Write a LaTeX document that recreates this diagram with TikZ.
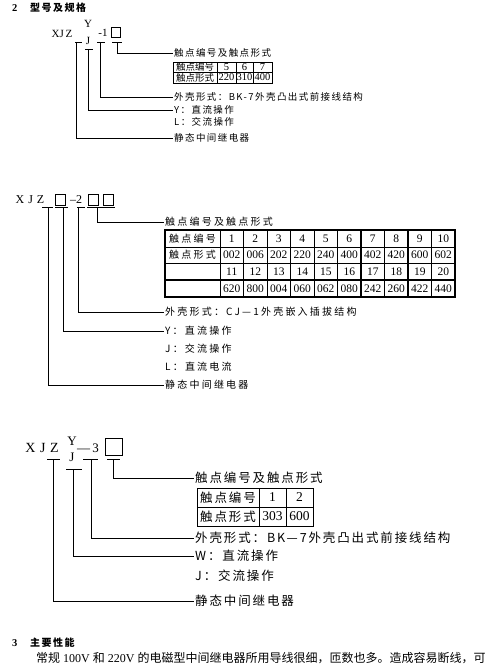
\documentclass[tikz,border=0pt]{standalone}
\usepackage{fontspec}
\setmainfont{Liberation Serif}
\newfontfamily\cjk[LetterSpace=15]{Noto Sans CJK SC}
\newfontfamily\cjkwide[LetterSpace=22]{Noto Sans CJK SC}
\usetikzlibrary{positioning}

\begin{document}
\begin{tikzpicture}[x=1pt,y=-1pt,
  lblA/.style={anchor=west,inner sep=1pt,font=\cjk\fontsize{9.5}{11}\selectfont},
  lblB/.style={anchor=west,inner sep=1pt,font=\cjkwide\fontsize{10}{12}\selectfont},
  lblC/.style={anchor=west,inner sep=1pt,font=\cjk\fontsize{12.5}{14}\selectfont},
  code/.style={inner sep=0pt},
  cellbox/.style={draw,line width=0.6pt,inner sep=0pt},
  heading/.style={anchor=west,inner sep=0pt,font=\bfseries\fontsize{10.5}{12}\selectfont}]
  \useasboundingbox (0,0) rectangle (500,664);

  % heading 2
  \node[heading] (num2) at (12,8) {2};
  \node[heading,font=\cjk\bfseries\fontsize{10}{12}\selectfont] (title2) at (30,8) {型号及规格};

  % ---- XJZ Y/J -1 ----
  \node[code,font=\fontsize{11}{12}\selectfont] (codeA) at (62,34) {XJ\,Z};
  \node[code,font=\fontsize{11}{12}\selectfont] (yA) at (88,24) {Y};
  \node[code,font=\fontsize{11}{12}\selectfont] (jA) at (88,41) {J};
  \node[code,font=\fontsize{11}{12}\selectfont] (numA) at (103,33) {-1};
  \node[cellbox,minimum width=9pt,minimum height=10pt] (boxA) at (116,32) {};
  \draw (75,42) -- (82,42) (85,49) -- (93,49) (97,42) -- (105,42) (112,42) -- (122,42);
  \coordinate (uA1) at (76,42);
  \coordinate (uA2) at (88,49);
  \coordinate (uA3) at (100,42);
  \coordinate (uA4) at (117,42);
  \node[lblA] (contA) at (173,53) {触点编号及触点形式};
  \node[lblA] (shellA) at (173,97) {外壳形式：BK-7外壳凸出式前接线结构};
  \node[lblA] (dcA) at (173,110) {Y：直流操作};
  \node[lblA] (acA) at (173,122) {L：交流操作};
  \node[lblA] (relA) at (173,138) {静态中间继电器};
  \draw (uA4) |- (contA.west);
  \draw (uA3) |- (shellA.west);
  \draw (uA2) |- (dcA.west);
  \draw (uA1) |- (relA.west);
  % table A
  \draw[line width=0.8pt] (173,62) rectangle (272,83);
  \draw[line width=0.6pt] (173,72) -- (272,72);
  \foreach \x in {217,236,253} \draw[line width=0.6pt] (\x,62) -- (\x,83);
  \node[font=\fontspec{Noto Sans CJK SC}\fontsize{9.5}{10}\selectfont,inner sep=0pt] (tA-1-0) at (195,67) {触点编号};
  \node[font=\fontspec{Noto Sans CJK SC}\fontsize{9.5}{10}\selectfont,inner sep=0pt] (tA-2-0) at (195,77.5) {触点形式};
  \foreach \n/\f/\x [count=\i] in {5/220/226.5,6/310/244.5,7/400/262.5} {
    \node[font=\fontsize{10.5}{12}\selectfont,inner sep=0pt] (tA-1-\i) at (\x,67) {\n};
    \node[font=\fontsize{10.5}{12}\selectfont,inner sep=0pt] (tA-2-\i) at (\x,77.5) {\f};
  }

  % ---- XJZ [] -2 [][] ----
  \node[code,font=\fontsize{12}{13}\selectfont] (codeB) at (30,200) {X\,\,J\,\,Z};
  \node[cellbox,minimum width=10pt,minimum height=11pt] (boxB1) at (60,199.5) {};
  \node[code,font=\fontsize{12}{13}\selectfont] (numB) at (76,200) {--2};
  \node[cellbox,minimum width=10pt,minimum height=11pt] (boxB2) at (93,199.5) {};
  \node[cellbox,minimum width=10pt,minimum height=11pt] (boxB3) at (108,199.5) {};
  \draw (42,207) -- (53,207) (55,207) -- (68,207) (77,207) -- (85,207) (87,207) -- (115,207);
  \coordinate (uB1) at (48,207);
  \coordinate (uB2) at (63,207);
  \coordinate (uB3) at (78,207);
  \coordinate (uB4) at (97,207);
  \node[lblB] (contB) at (164,222) {触点编号及触点形式};
  \node[lblB] (shellB) at (164,312) {外壳形式：CJ—1外壳嵌入插拔结构};
  \node[lblB] (dcB) at (164,331) {Y：直流操作};
  \node[lblB] (acB) at (164,349) {J：交流操作};
  \node[lblB] (curB) at (164,367) {L：直流电流};
  \node[lblB] (relB) at (164,385) {静态中间继电器};
  \draw (uB4) |- (contB.west);
  \draw (uB3) |- (shellB.west);
  \draw (uB2) |- (dcB.west);
  \draw (uB1) |- (relB.west);
  % table B
  \foreach \y in {247,263} \draw[line width=0.6pt] (165,\y) -- (455,\y);
  \draw[line width=1.2pt] (165,280) -- (455,280);
  \draw[line width=0.6pt] (220,230) -- (220,297);
  \foreach \k in {2,3,4,5,7,9} \draw[line width=0.6pt] (220+23.5*\k,230) -- (220+23.5*\k,297);
  \foreach \k in {1,6,8} \draw[line width=1.2pt] (220+23.5*\k,230) -- (220+23.5*\k,297);
  \draw[line width=1.2pt] (165,230) rectangle (455,297);
  \node[font=\cjkwide\fontsize{10}{12}\selectfont,inner sep=0pt] (tB-1-0) at (192.5,238.5) {触点编号};
  \node[font=\cjkwide\fontsize{10}{12}\selectfont,inner sep=0pt] (tB-2-0) at (192.5,255) {触点形式};
  \foreach \a/\b/\c/\d [count=\i] in {1/002/11/620,2/006/12/800,3/202/13/004,4/220/14/060,5/240/15/062,
      6/400/16/080,7/402/17/242,8/420/18/260,9/600/19/422,10/602/20/440} {
    \node[font=\fontsize{11.5}{12}\selectfont,inner sep=0pt] (tB-1-\i) at (208.25+23.5*\i,238.5) {\a};
    \node[font=\fontsize{11.5}{12}\selectfont,inner sep=0pt] (tB-2-\i) at (208.25+23.5*\i,255) {\b};
    \node[font=\fontsize{11.5}{12}\selectfont,inner sep=0pt] (tB-3-\i) at (208.25+23.5*\i,271.5) {\c};
    \node[font=\fontsize{11.5}{12}\selectfont,inner sep=0pt] (tB-4-\i) at (208.25+23.5*\i,288.5) {\d};
  }

  % ---- XJZ Y/J -3 [] ----
  \node[code,font=\fontsize{14}{15}\selectfont] (codeC) at (42,448) {X\,\,J\,\,Z};
  \node[code,font=\fontsize{13}{14}\selectfont] (yC) at (72,441) {Y};
  \node[code,font=\fontsize{13}{14}\selectfont] (jC) at (72,457) {J};
  \node[code,font=\fontsize{13}{14}\selectfont] (numC) at (88,448) {---\,3};
  \node[cellbox,minimum width=17pt,minimum height=17pt] (boxC) at (113.5,446.5) {};
  \draw (47,459) -- (60,459) (66,469) -- (82,469) (83,459) -- (98,459) (107,459) -- (120,459);
  \coordinate (uC1) at (53,459);
  \coordinate (uC2) at (73,469);
  \coordinate (uC3) at (91,459);
  \coordinate (uC4) at (113,459);
  \node[lblC] (contC) at (194,478) {触点编号及触点形式};
  \node[lblC] (shellC) at (194,538) {外壳形式：BK—7外壳凸出式前接线结构};
  \node[lblC] (dcC) at (194,556) {W：直流操作};
  \node[lblC] (acC) at (194,576) {J：交流操作};
  \node[lblC] (relC) at (194,601) {静态中间继电器};
  \draw (uC4) |- (contC.west);
  \draw (uC3) |- (shellC.west);
  \draw (uC2) |- (dcC.west);
  \draw (uC1) |- (relC.west);
  % table C
  \draw[line width=0.8pt] (197,488) rectangle (313,526);
  \draw[line width=0.6pt] (197,507) -- (313,507);
  \foreach \x in {259,286} \draw[line width=0.6pt] (\x,488) -- (\x,526);
  \node[font=\cjk\fontsize{12.5}{14}\selectfont,inner sep=0pt] (tC-1-0) at (228,497.5) {触点编号};
  \node[font=\cjk\fontsize{12.5}{14}\selectfont,inner sep=0pt] (tC-2-0) at (228,516.5) {触点形式};
  \foreach \n/\f/\x [count=\i] in {1/303/272.5,2/600/299.5} {
    \node[font=\fontsize{13.5}{14}\selectfont,inner sep=0pt] (tC-1-\i) at (\x,497.5) {\n};
    \node[font=\fontsize{13.5}{14}\selectfont,inner sep=0pt] (tC-2-\i) at (\x,516.5) {\f};
  }

  % heading 3
  \node[heading] (num3) at (12,643) {3};
  \node[heading,font=\cjk\bfseries\fontsize{10}{12}\selectfont] (title3) at (30,643) {主要性能};
  \node[anchor=west,inner sep=0pt,font=\fontsize{12}{13}\selectfont] (para3) at (36,658)
    {{\fontspec{Noto Sans CJK SC}常规} 100V {\fontspec{Noto Sans CJK SC}和} 220V {\fontspec{Noto Sans CJK SC}的电磁型中间继电器所用导线很细，匝数也多。造成容易断线，可}};
\end{tikzpicture}
\end{document}
